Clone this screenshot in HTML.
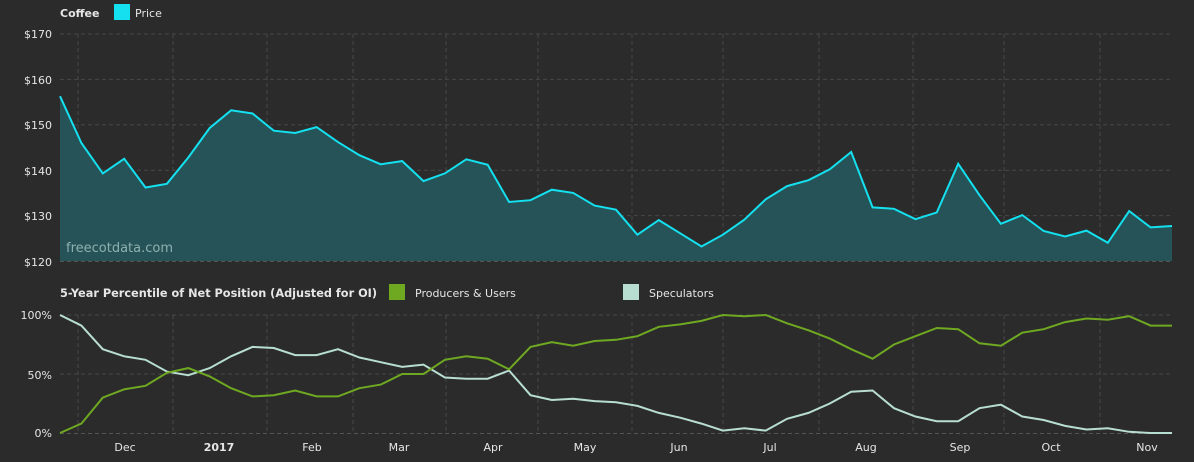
<!DOCTYPE html>
<html><head><meta charset="utf-8"><style>
html,body{margin:0;padding:0;background:#2b2b2b;}
svg{display:block;font-family:"DejaVu Sans","Liberation Sans",sans-serif;}
</style></head><body>
<svg id="s" width="1194" height="462" viewBox="0 0 1194 462" xmlns="http://www.w3.org/2000/svg">
<rect width="1194" height="462" fill="#2b2b2b"/>
<g id="grid" stroke="#474747" stroke-dasharray="4,3" stroke-width="1"></g>
<g id="data"></g>
<text x="60" y="17" fill="#e6e6e6" font-size="11" font-weight="bold">Coffee</text>
<rect x="114" y="4" width="16" height="16" fill="#14e0ef"/>
<text x="135" y="17" fill="#e6e6e6" font-size="11">Price</text>
<text x="60" y="297" fill="#e6e6e6" font-size="11.3" font-weight="bold">5-Year Percentile of Net Position (Adjusted for OI)</text>
<rect x="389" y="284" width="16" height="16" fill="#6fa821"/>
<text x="415" y="297" fill="#e6e6e6" font-size="11">Producers &amp; Users</text>
<rect x="623" y="284" width="16" height="16" fill="#b8ded2"/>
<text x="649" y="297" fill="#e6e6e6" font-size="11">Speculators</text>
<g fill="#e6e6e6" font-size="11" text-anchor="end">
<text x="52" y="38">$170</text><text x="52" y="84">$160</text><text x="52" y="129">$150</text>
<text x="52" y="175">$140</text><text x="52" y="220">$130</text><text x="52" y="266">$120</text>
<text x="52" y="319">100%</text><text x="52" y="379">50%</text><text x="52" y="437">0%</text>
</g>
<g fill="#e6e6e6" font-size="11" text-anchor="middle">
<text x="125" y="451">Dec</text><text x="219" y="451" font-weight="bold">2017</text><text x="312" y="451">Feb</text>
<text x="399" y="451">Mar</text><text x="493" y="451">Apr</text><text x="585" y="451">May</text>
<text x="679" y="451">Jun</text><text x="770" y="451">Jul</text><text x="866" y="451">Aug</text>
<text x="960" y="451">Sep</text><text x="1051" y="451">Oct</text><text x="1147" y="451">Nov</text>
</g>
<text x="66" y="252" fill="#8fb0b0" font-size="13">freecotdata.com</text>
</svg>
<script>
var price=[156.3,146,139.3,142.5,136.2,137,142.8,149.3,153.2,152.5,148.7,148.2,149.5,146.2,143.3,141.3,142,137.6,139.3,142.4,141.2,133,133.4,135.7,135,132.2,131.3,125.8,129,126.1,123.2,125.8,129.1,133.6,136.5,137.8,140.2,144,131.8,131.5,129.2,130.7,141.4,134.5,128.2,130.1,126.6,125.4,126.7,124,131,127.4,127.7];
var prod=[0,8,30,37,40,51,55,48,38,31,32,36,31,31,38,41,50,50,62,65,63,54,73,77,74,78,79,82,90,92,95,100,99,100,93,87,80,71,63,75,82,89,88,76,74,85,88,94,97,96,99,91,91];
var spec=[100,91,71,65,62,52,49,55,65,73,72,66,66,71,64,60,56,58,47,46,46,53,32,28,29,27,26,23,17,13,8,2,4,2,12,17,25,35,36,21,14,10,10,21,24,14,11,6,3,4,1,0,0];
var x0=60,x1=1172,dx=(x1-x0)/(price.length-1);
function X(i){return (x0+i*dx).toFixed(1);}
function PY(p){return (34+(170-p)*4.54).toFixed(1);}
function QY(v){return (315+(100-v)*1.18).toFixed(1);}
var ns="http://www.w3.org/2000/svg",g=document.getElementById('grid'),d=document.getElementById('data');
function el(p,tag,a){var e=document.createElementNS(ns,tag);for(var k in a)e.setAttribute(k,a[k]);p.appendChild(e);return e;}
[170,160,150,140,130].forEach(function(v){var y=PY(v);el(g,'line',{x1:60,x2:1173,y1:y,y2:y});});
[100,50].forEach(function(v){var y=QY(v);el(g,'line',{x1:60,x2:1173,y1:y,y2:y});});
[78,173,267,353,446,538,632,723,819,913,1004,1100].forEach(function(x){
 el(g,'line',{x1:x,x2:x,y1:34,y2:261});el(g,'line',{x1:x,x2:x,y1:315,y2:433});});
var pts=price.map(function(p,i){return X(i)+','+PY(p);}).join(' ');
el(d,'polygon',{points:'60,261 '+pts+' 1172,261',fill:'#255357'});
el(d,'line',{x1:60,x2:1173,y1:261.5,y2:261.5,stroke:'#555',"stroke-dasharray":"4,3"});
el(d,'line',{x1:60,x2:1173,y1:433.5,y2:433.5,stroke:'#555',"stroke-dasharray":"4,3"});
el(d,'polyline',{points:pts,fill:'none',stroke:'#14e0ef','stroke-width':2});
el(d,'polyline',{points:spec.map(function(v,i){return X(i)+','+QY(v);}).join(' '),fill:'none',stroke:'#b8ded2','stroke-width':2});
el(d,'polyline',{points:prod.map(function(v,i){return X(i)+','+QY(v);}).join(' '),fill:'none',stroke:'#6fa821','stroke-width':2});
</script>
</body></html>
